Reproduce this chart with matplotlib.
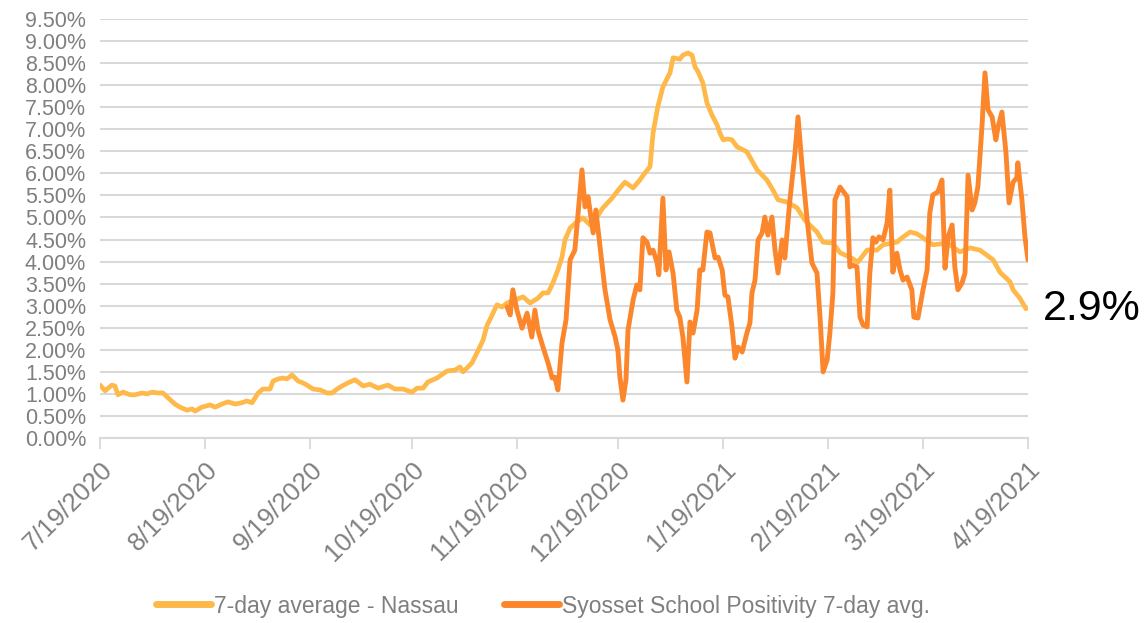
import datetime as dt
import matplotlib
matplotlib.use("Agg")
import matplotlib.pyplot as plt
import matplotlib.dates as mdates

# days since 7/19/2020, values in percent
nassau_days = [0, 1.5, 3.5, 4.4, 5.3, 6.8, 8.9, 10.3, 12.4, 13.9, 15.4, 17.1, 18.6, 20.1, 22.1,
               23.6, 25.7, 27.2, 28.1, 30.1, 32.5, 34.0, 36.0, 37.8, 39.9, 41.9, 43.4, 44.9, 46.7,
               48.1, 50.2, 51.1, 52.6, 54.0, 55.2, 56.7, 58.5, 59.9, 61.1, 62.9, 65.0, 67.0, 68.5,
               70.0, 71.5, 73.2, 75.3, 77.7, 79.7, 82.1, 85.0, 87.1, 89.5, 92.1, 93.6, 95.4, 96.8,
               99.5, 102.5, 104.8, 106.3, 107.2, 109.8, 111.3, 113.1, 114.3, 115.1, 117.2, 118.7,
               120.2, 122.5, 124.9, 127.0, 129.3, 130.8, 132.3, 133.7, 135.2, 136.4, 137.3, 138.8,
               140.8, 142.6, 144.7, 146.7, 148.5, 151.2, 153.0, 155.0, 157.4, 159.4, 160.9, 162.4,
               163.3, 164.7, 166.2, 168.3, 169.2, 171.2, 172.1, 173.6, 174.8, 175.7, 176.6, 178.0,
               179.2, 180.7, 182.2, 183.0, 184.0, 185.4, 186.6, 188.1, 191.0, 194.0, 196.9, 198.7,
               200.2, 202.8, 205.8, 208.1, 211.7, 213.5, 216.4, 218.5, 221.4, 223.8, 226.5, 229.4,
               231.2, 235.3, 236.8, 239.2, 241.2, 243.0, 245.9, 250.1, 253.9, 256.9, 259.8, 263.7,
               265.7, 268.7, 269.6, 271.6, 273.4]
nassau_vals = [1.20, 1.07, 1.20, 1.18, 0.98, 1.04, 0.98, 0.98, 1.02, 1.00, 1.04, 1.02, 1.02, 0.91, 0.77,
               0.70, 0.63, 0.66, 0.61, 0.70, 0.75, 0.70, 0.77, 0.82, 0.77, 0.80, 0.84, 0.80, 1.02,
               1.11, 1.11, 1.29, 1.34, 1.36, 1.34, 1.43, 1.29, 1.25, 1.20, 1.11, 1.09, 1.02, 1.02,
               1.11, 1.18, 1.25, 1.32, 1.18, 1.22, 1.13, 1.20, 1.11, 1.11, 1.04, 1.13, 1.13, 1.27,
               1.36, 1.52, 1.54, 1.61, 1.50, 1.70, 1.93, 2.22, 2.56, 2.68, 3.02, 2.97,
               3.06, 3.13, 3.20, 3.06, 3.17, 3.29, 3.29, 3.51, 3.81, 4.10, 4.49, 4.76,
               4.90, 4.99, 4.83, 5.01, 5.22, 5.44, 5.62, 5.80, 5.67, 5.85, 6.01, 6.15,
               6.92, 7.51, 7.96, 8.28, 8.62, 8.59, 8.68, 8.73, 8.68, 8.41, 8.30, 8.05,
               7.60, 7.32, 7.10, 6.92, 6.76, 6.78, 6.76, 6.60, 6.49, 6.08, 5.85, 5.62,
               5.40, 5.35, 5.22, 4.94, 4.67, 4.44, 4.42, 4.20, 4.10, 3.99, 4.26, 4.26,
               4.38, 4.44, 4.54, 4.67, 4.63, 4.54, 4.38, 4.42, 4.22, 4.31, 4.26, 4.04,
               3.76, 3.54, 3.36, 3.17, 2.93]

syosset_days = [120.2, 121.1, 121.9, 123.1, 124.6, 126.1, 127.5, 128.4, 129.3, 130.8, 132.3, 133.5,
                134.3, 135.2, 136.4, 137.6, 138.8, 140.2, 142.3, 143.2, 144.1, 145.6, 146.4, 149.1,
                150.6, 152.1, 152.9, 153.5, 154.4, 155.3, 155.9, 157.4, 158.5, 159.4, 160.3, 161.5,
                162.4, 163.3, 164.5, 165.0, 166.2, 167.1, 168.0, 169.2, 170.3, 171.2, 172.1, 173.3,
                174.2, 175.1, 176.3, 177.1, 178.0, 179.2, 180.1, 181.6, 182.5, 183.7, 184.5, 185.4,
                186.6, 187.5, 188.4, 189.6, 191.0, 191.9, 192.5, 193.4, 194.3, 195.5, 196.3, 197.2,
                198.4, 199.3, 200.2, 201.4, 202.2, 203.7, 205.2, 206.1, 207.3, 208.7, 210.2, 211.7,
                212.6, 213.5, 214.7, 215.5, 216.4, 217.0, 218.5, 220.6, 221.4, 222.3, 223.5, 224.4,
                225.3, 226.5, 227.3, 228.2, 229.1, 230.0, 231.2, 232.4, 233.2, 234.1, 235.3, 236.2,
                237.1, 238.3, 239.7, 240.3, 241.5, 243.0, 244.2, 245.0, 245.9, 247.4, 248.6, 249.5,
                250.4, 251.6, 252.4, 253.3, 254.5, 255.4, 256.3, 257.5, 258.3, 259.2, 260.4, 261.3,
                262.2, 263.4, 264.5, 265.1, 266.3, 267.5, 268.4, 269.6, 270.7, 271.0, 272.2, 273.1,
                274.0]
syosset_vals = [2.97, 2.79, 3.36, 2.90, 2.49, 2.83, 2.29, 2.90, 2.45, 2.06, 1.70, 1.36,
                1.38, 1.09, 2.15, 2.68, 4.04, 4.26, 6.08, 5.24, 5.47, 4.65, 5.17, 3.36,
                2.68, 2.29, 2.00, 1.38, 0.86, 1.32, 2.45, 3.13, 3.47, 3.36, 4.54, 4.44,
                4.19, 4.26, 3.97, 3.70, 5.44, 3.81, 4.22, 3.74, 2.90, 2.74, 2.29, 1.27,
                2.63, 2.38, 2.90, 3.81, 3.81, 4.67, 4.65, 4.08, 4.10, 3.81, 3.24, 3.20,
                2.52, 1.81, 2.06, 1.95, 2.38, 2.61, 3.29, 3.58, 4.49, 4.65, 5.01, 4.60,
                5.01, 4.26, 3.74, 4.49, 4.08, 5.40, 6.46, 7.28, 6.15, 5.01, 3.97, 3.74,
                2.74, 1.50, 1.77, 2.38, 3.29, 5.40, 5.69, 5.47, 3.88, 3.92, 3.88, 2.74,
                2.56, 2.52, 3.74, 4.54, 4.44, 4.56, 4.49, 4.88, 5.62, 3.76, 4.19, 3.81,
                3.58, 3.65, 3.36, 2.74, 2.72, 3.36, 3.81, 5.10, 5.51, 5.58, 5.85, 3.85,
                4.56, 4.83, 3.88, 3.36, 3.51, 3.74, 5.96, 5.17, 5.33, 5.69, 7.05, 8.28,
                7.44, 7.28, 6.76, 7.03, 7.39, 6.46, 5.33, 5.80, 5.90, 6.24, 5.40, 4.56,
                4.04]

tick_dates = ["2020-07-19", "2020-08-19", "2020-09-19", "2020-10-19", "2020-11-19",
              "2020-12-19", "2021-01-19", "2021-02-19", "2021-03-19", "2021-04-19"]
tick_labels = ["7/19/2020", "8/19/2020", "9/19/2020", "10/19/2020", "11/19/2020",
               "12/19/2020", "1/19/2021", "2/19/2021", "3/19/2021", "4/19/2021"]
series_names = ["7-day average - Nassau", "Syosset School Positivity 7-day avg."]
last_label = "2.9%"

plt.rcParams['font.family'] = ['Liberation Sans', 'DejaVu Sans']

start = mdates.date2num(dt.datetime(2020, 7, 19))
end = mdates.date2num(dt.datetime(2021, 4, 19))

fig = plt.figure(figsize=(11.48, 6.23), dpi=100)
ax = fig.add_axes([100/1148, 1-438/623, 928/1148, 419/623])

grey = '#7f7f7f'
ax.plot([start + d for d in nassau_days], nassau_vals, color='#FFB94A', lw=3.4,
        solid_capstyle='round', label=series_names[0], zorder=3)
ax.plot([start + d for d in syosset_days], syosset_vals, color='#FB862B', lw=3.5,
        solid_capstyle='round', label=series_names[1], zorder=4)

ax.set_xlim(start, end)
ax.set_ylim(0, 9.5)
yt = [i*0.5 for i in range(20)]
ax.set_yticks(yt)
ax.set_yticklabels(["%.2f%%" % v for v in yt], color=grey, fontsize=15.5)
ax.yaxis.grid(True, color='#d9d9d9', lw=1.5)
ax.set_axisbelow(True)
ax.tick_params(axis='y', length=0, pad=10)

ticks = [mdates.date2num(dt.datetime.strptime(s, "%Y-%m-%d")) for s in tick_dates]
ax.set_xticks(ticks)
ax.set_xticklabels(tick_labels, rotation=45, ha='right', va='top', rotation_mode='anchor',
                   color=grey, fontsize=18.5)
ax.tick_params(axis='x', length=8, width=1.3, color='#d9d9d9', pad=6)

for s in ['top', 'right', 'left']:
    ax.spines[s].set_visible(False)
ax.spines['bottom'].set_color('#d9d9d9')
ax.spines['bottom'].set_linewidth(1.5)

ax.annotate(last_label, xy=(1.0, 2.93), xycoords=('axes fraction', 'data'),
            xytext=(11, 0), textcoords='offset points', va='center', ha='left',
            fontsize=31, color='black')

leg = fig.legend(loc='center', bbox_to_anchor=(543/1148, 1-606/623), ncol=2, frameon=False,
                 fontsize=16.5, handlelength=2.4, handletextpad=0.12, columnspacing=2.0)
for t in leg.get_texts():
    t.set_color(grey)
for h in leg.get_lines():
    h.set_linewidth(5)

fig.savefig("out.png", dpi=100)
